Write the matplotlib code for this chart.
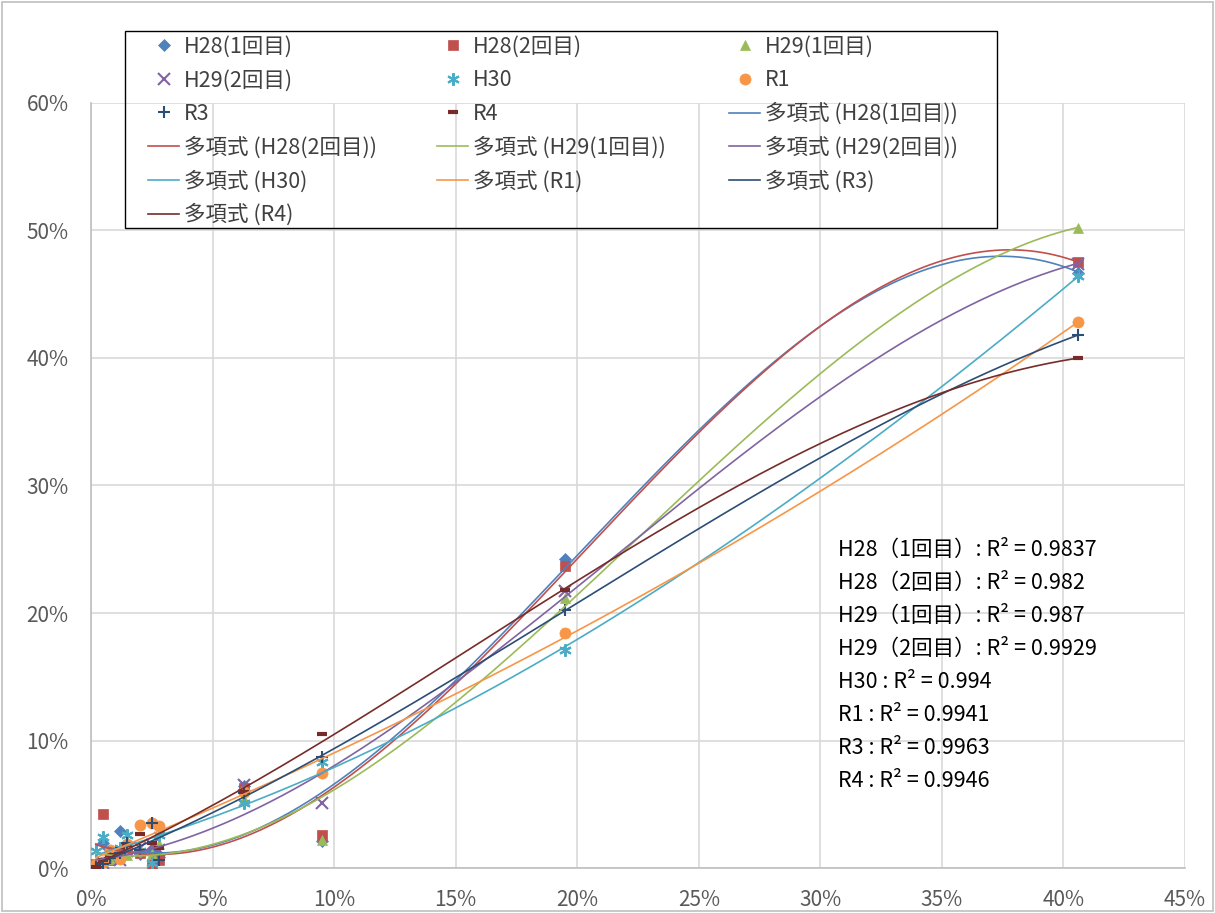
import numpy as np
import matplotlib
matplotlib.use("Agg")
import matplotlib.pyplot as plt
from matplotlib.ticker import FuncFormatter, MultipleLocator
from matplotlib.patches import Rectangle

plt.rcParams['font.family'] = ['Noto Sans CJK JP', 'DejaVu Sans']

# x values (%) shared by the survey series
x_vals = [0.2, 0.5, 0.8, 1.2, 1.5, 2.0, 2.5, 2.8, 6.3, 9.5, 19.5, 40.6]

names = ["H28(1回目)", "H28(2回目)", "H29(1回目)", "H29(2回目)", "H30", "R1", "R3", "R4"]

y_h28_1 = [0.3, 2.0, 0.8, 2.9, 1.6, 1.1, 1.3, 0.9, 6.4, 2.1, 24.2, 46.7]
y_h28_2 = [0.3, 4.2, 0.6, 1.0, 1.4, 1.2, 0.3, 0.6, 6.3, 2.6, 23.7, 47.5]
y_h29_1 = [0.2, 0.5, 0.7, 1.2, 1.0, 1.5, 1.1, 1.9, 5.4, 2.2, 21.2, 50.2]
y_h29_2 = [0.1, 0.4, 1.0, 0.6, 1.3, 1.6, 1.8, 1.4, 6.5, 5.1, 21.7, 47.4]
y_h30 = [1.3, 2.4, 0.9, 1.6, 2.6, 1.3, 0.4, 2.6, 5.1, 8.3, 17.1, 46.4]
y_r1 = [0.3, 0.5, 1.4, 0.7, 1.9, 3.4, 3.5, 3.3, 6.0, 7.45, 18.4, 42.8]
y_r3 = [0.1, 0.3, 0.8, 1.2, 2.0, 1.4, 3.5, 0.6, 5.9, 8.7, 20.2, 41.8]
y_r4 = [0.1, 0.6, 1.0, 1.5, 1.8, 2.7, 2.0, 1.6, 6.0, 10.5, 21.8, 40.0]

series_y = [y_h28_1, y_h28_2, y_h29_1, y_h29_2, y_h30, y_r1, y_r3, y_r4]

r2_labels = [
    "H28（1回目）: R² = 0.9837",
    "H28（2回目）: R² = 0.982",
    "H29（1回目）: R² = 0.987",
    "H29（2回目）: R² = 0.9929",
    "H30 : R² = 0.994",
    "R1 : R² = 0.9941",
    "R3 : R² = 0.9963",
    "R4 : R² = 0.9946",
]

colors = ["#4F81BD", "#C0504D", "#9BBB59", "#8064A2", "#4BACC6", "#F79646", "#2C4D75", "#772C2A"]
markers = ["D", "s", "^", "x", (6, 2, 0), "o", "+", "_"]
msizes = [6, 7, 7.5, 8, 9, 8, 9, 7]

W, H = 1215, 913
fig = plt.figure(figsize=(W / 100, H / 100), dpi=100)
ax = fig.add_axes([91 / W, 1 - 868 / H, (1185 - 91) / W, (868 - 103) / H])

xs = np.array(x_vals) / 100
marker_handles = []
line_handles = []
for name, ys, c, m, ms in zip(names, series_y, colors, markers, msizes):
    ys = np.array(ys) / 100
    h, = ax.plot(xs, ys, linestyle="none", marker=m, color=c, markersize=ms,
                 markeredgewidth=1.5 if m in ("x", "+", (6, 2, 0)) else (3 if m == "_" else 0.5),
                 zorder=3, label=name)
    marker_handles.append(h)
    # cubic trendline (Excel polynomial, order 3)
    coef = np.polyfit(xs, ys, 3)
    xx = np.linspace(xs.min(), xs.max(), 300)
    l, = ax.plot(xx, np.polyval(coef, xx), color=c, linewidth=1.2, zorder=4,
                 label=f"多項式 ({name})")
    line_handles.append(l)

ax.set_xlim(0, 0.45)
ax.set_ylim(0, 0.60)
ax.xaxis.set_major_locator(MultipleLocator(0.05))
ax.yaxis.set_major_locator(MultipleLocator(0.10))
pct = FuncFormatter(lambda v, p: f"{v * 100:.0f}%")
ax.xaxis.set_major_formatter(pct)
ax.yaxis.set_major_formatter(pct)
ax.tick_params(length=0, labelsize=15, labelcolor="#595959")
ax.tick_params(axis="y", pad=16)
ax.tick_params(axis="x", pad=15)
ax.grid(True, color="#D9D9D9", linewidth=1.2)
ax.set_axisbelow(True)
for s in ["top", "right"]:
    ax.spines[s].set_visible(False)
for s in ["left", "bottom"]:
    ax.spines[s].set_color("#BFBFBF")
    ax.spines[s].set_linewidth(1.2)

for i, t in enumerate(r2_labels):
    ax.text((838 - 91) / 1094, (868 - 550) / 765 - i * 33 / 765, t, transform=ax.transAxes,
            fontsize=15.5, va="center", ha="left", color="black")

# legend: row-major order, one legend per column so columns sit at fixed x
items = marker_handles + line_handles
col_x = [148, 437, 729]
for c in range(3):
    col_items = items[c::3]
    leg = fig.legend(col_items, [h.get_label() for h in col_items], loc="upper left",
                     bbox_to_anchor=(col_x[c] / W, 1 - 36 / H), bbox_transform=fig.transFigure,
                     borderaxespad=0, borderpad=0, frameon=False, fontsize=15.5,
                     handlelength=1.45, handletextpad=0.2, labelspacing=0.53,
                     labelcolor="#404040")

fig.patches.append(Rectangle((125 / W, 1 - 228 / H), 872 / W, 197 / H, transform=fig.transFigure,
                             fill=False, edgecolor="black", linewidth=1.0, zorder=5))
fig.patches.append(Rectangle((0.002, 0.002), 0.996, 0.996, transform=fig.transFigure,
                             fill=False, edgecolor="#BFBFBF", linewidth=1.2))

fig.savefig("out.png", dpi=100)
